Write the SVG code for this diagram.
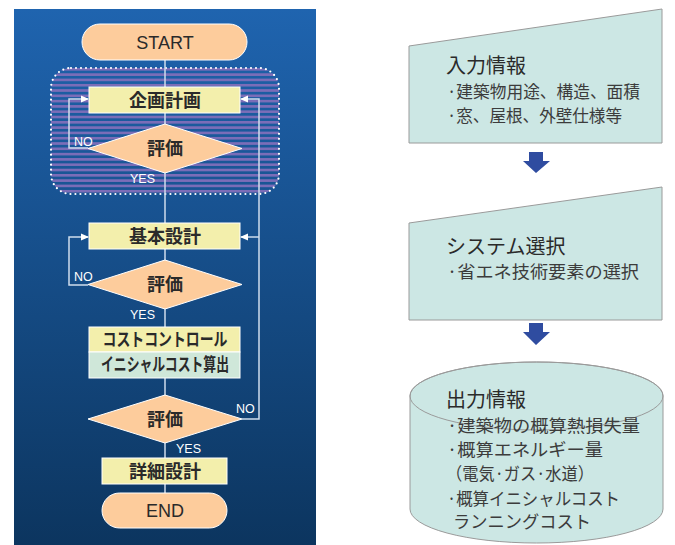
<svg xmlns="http://www.w3.org/2000/svg" width="675" height="545" viewBox="0 0 675 545">
<style>
.lbl{font-family:"Noto Sans CJK JP","Noto Sans",sans-serif;font-weight:bold;font-size:18px;fill:#2a2a2a;text-anchor:middle}
.en{font-family:"Liberation Sans",Arial,sans-serif;font-size:18px;fill:#2a2a2a;text-anchor:middle}
.yn{font-family:"Liberation Sans",Arial,sans-serif;font-size:12.5px;fill:#ffffff}
.box{fill:#F3EFAC;stroke:#ffffff;stroke-width:1}
.grn{fill:#CFE7D9;stroke:#ffffff;stroke-width:1}
.dia{fill:#FDCC9C;stroke:#ffffff;stroke-width:1}
.con{fill:none;stroke:#CFDDED;stroke-width:1.5}
.rbox{fill:#CCE7E4;stroke:#9a9a9a;stroke-width:1}
.tt{font-family:"Noto Sans CJK JP",sans-serif;font-size:20px;fill:#2a2a2a}
.tx{font-family:"Noto Sans CJK JP",sans-serif;font-size:17.5px;fill:#3c3c3c}
.arr{fill:#2F4CA0}
</style>
<defs>
<linearGradient id="bg" x1="0" y1="0" x2="0" y2="1">
<stop offset="0" stop-color="#1F64AF"/>
<stop offset="1" stop-color="#0C355F"/>
</linearGradient>
<pattern id="stripes" x="0" y="68" width="10" height="5.3" patternUnits="userSpaceOnUse">
<rect x="0" y="0" width="10" height="2.6" fill="#7B6DB8"/>
</pattern>
<clipPath id="rc"><rect x="51" y="68" width="228" height="126" rx="20"/></clipPath>
<marker id="ah" markerWidth="8" markerHeight="8" refX="7" refY="4" orient="auto" markerUnits="userSpaceOnUse">
<path d="M0,0.5 L8,4 L0,7.5 Z" fill="#ffffff"/>
</marker>
</defs>
<rect width="675" height="545" fill="#ffffff"/>
<g id="panel">
<rect x="14" y="9" width="302" height="536" fill="url(#bg)"/>
<rect x="51" y="68" width="228" height="126" fill="url(#stripes)" clip-path="url(#rc)"/>
<rect x="51" y="68" width="228" height="126" rx="20" fill="none" stroke="#ffffff" stroke-width="2.2" stroke-dasharray="0 5" stroke-linecap="round"/>
</g>
<g id="connectors">
<line class="con" x1="165" y1="60" x2="165" y2="493"/>
<polyline class="con" points="88,148 69,148 69,99 88,99" marker-end="url(#ah)"/>
<polyline class="con" points="88,285 69,285 69,237 88,237" marker-end="url(#ah)"/>
<polyline class="con" points="242,419 259,419 259,99 241,99" marker-end="url(#ah)"/>
<line class="con" x1="259" y1="237" x2="241" y2="237" marker-end="url(#ah)"/>
<text class="yn" x="74" y="146">NO</text>
<text class="yn" x="130" y="183">YES</text>
<text class="yn" x="74" y="281">NO</text>
<text class="yn" x="130" y="319">YES</text>
<text class="yn" x="236" y="413">NO</text>
<text class="yn" x="176" y="453">YES</text>
</g>
<g id="start">
<rect class="dia" x="82" y="24" width="165" height="36" rx="18"/>
<text class="en" x="165" y="48.5">START</text>
</g>
<g id="plan">
<rect class="box" x="89" y="87" width="151" height="26"/>
<text class="lbl" x="165" y="106.5">企画計画</text>
</g>
<g id="eval1">
<polygon class="dia" points="165,124 242,148.5 165,173 88,148.5"/>
<text class="lbl" x="165" y="155">評価</text>
</g>
<g id="basic">
<rect class="box" x="89" y="223" width="151" height="26"/>
<text class="lbl" x="165" y="242.5">基本設計</text>
</g>
<g id="eval2">
<polygon class="dia" points="165,260 242,284.5 165,309 88,284.5"/>
<text class="lbl" x="165" y="291">評価</text>
</g>
<g id="cost">
<rect class="box" x="89" y="327" width="151" height="25"/>
<text class="lbl" x="165" y="345.5" font-size="15" textLength="125" lengthAdjust="spacingAndGlyphs">コストコントロール</text>
<rect class="grn" x="89" y="352" width="151" height="26"/>
<text class="lbl" x="165" y="371" font-size="15" textLength="128" lengthAdjust="spacingAndGlyphs">イニシャルコスト算出</text>
</g>
<g id="eval3">
<polygon class="dia" points="165,395 242,419 165,443 88,419"/>
<text class="lbl" x="165" y="425.5">評価</text>
</g>
<g id="detail">
<rect class="box" x="102" y="458" width="125" height="26"/>
<text class="lbl" x="165" y="477.5">詳細設計</text>
</g>
<g id="end">
<rect class="dia" x="102" y="493" width="125" height="35" rx="17.5"/>
<text class="en" x="165" y="517">END</text>
</g>
<g id="input">
<polygon class="rbox" points="409,46 662,9 662,143 409,143"/>
<text class="tt" x="446" y="73">入力情報</text>
<text class="tx" x="447" y="97.5" textLength="193" lengthAdjust="spacingAndGlyphs">·建築物用途、構造、面積</text>
<text class="tx" x="447" y="121.5" textLength="175" lengthAdjust="spacingAndGlyphs">·窓、屋根、外壁仕様等</text>
</g>
<g id="arrow1"><polygon class="arr" points="529,152 543,152 543,161 550,161 536,173 523,161 529,161"/></g>
<g id="system">
<polygon class="rbox" points="409,223 662,187 662,320 409,320"/>
<text class="tt" x="446" y="254">システム選択</text>
<text class="tx" x="447" y="278" textLength="192" lengthAdjust="spacingAndGlyphs">·省エネ技術要素の選択</text>
</g>
<g id="arrow2"><polygon class="arr" points="529,323 543,323 543,332 550,332 536,345 523,332 529,332"/></g>
<g id="output">
<path class="rbox" d="M410,396 L410,509 A126.5,34 0 0 0 663,509 L663,396 A126.5,34 0 0 0 410,396 Z"/>
<ellipse cx="536.5" cy="396" rx="126.5" ry="34" fill="none" stroke="#9a9a9a" stroke-width="1"/>
<text class="tt" x="446" y="407">出力情報</text>
<text class="tx" x="447" y="432" textLength="193" lengthAdjust="spacingAndGlyphs">·建築物の概算熱損失量</text>
<text class="tx" x="447" y="456" textLength="156" lengthAdjust="spacingAndGlyphs">·概算エネルギー量</text>
<text class="tx" x="446" y="480" textLength="148" lengthAdjust="spacingAndGlyphs">（電気·ガス·水道）</text>
<text class="tx" x="447" y="505" textLength="173" lengthAdjust="spacingAndGlyphs">·概算イニシャルコスト</text>
<text class="tx" x="453" y="528" textLength="138" lengthAdjust="spacingAndGlyphs">ランニングコスト</text>
</g>
</svg>
